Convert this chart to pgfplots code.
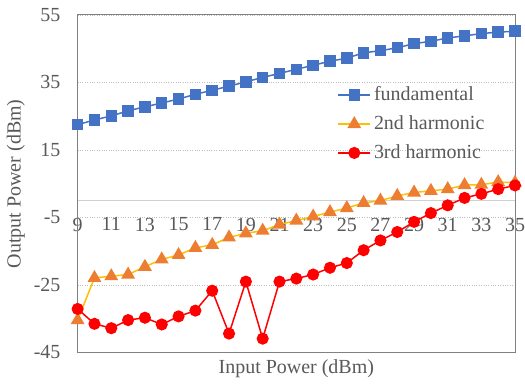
\documentclass[border=0pt]{standalone}
\usepackage{pgfplots}
\pgfplotsset{compat=1.18}
\usepackage{fontspec}
\setmainfont{Liberation Serif}
\definecolor{txt}{HTML}{595959}
\definecolor{fund}{HTML}{4472C4}
\definecolor{secl}{HTML}{FFC000}
\definecolor{secm}{HTML}{ED7D31}
\definecolor{third}{HTML}{FF0000}
\definecolor{gridc}{HTML}{BFBFBF}
\definecolor{frame}{HTML}{808080}
\definecolor{zeroc}{HTML}{D0D0D0}
\begin{document}
\fontsize{20bp}{24bp}\selectfont
\begin{tikzpicture}
\begin{axis}[
  scale only axis,
  width=438bp, height=338bp,
  xmin=9, xmax=35, ymin=-45, ymax=55,
  axis x line*=middle,
  axis y line*=left,
  hide obscured x ticks=false,
  hide obscured y ticks=false,
  x axis line style={draw=zeroc, line width=1.2pt, -},
  y axis line style={draw=frame, line width=1pt, -},
  xtick={9,11,...,35},
  xticklabels={9,11,13,15,17,19,21,23,25,27,29,31,33,35},
  ytick={-45,-25,-5,15,35,55},
  yticklabels={-45,-25,-5,15,35,55},
  major tick length=0pt,
  ymajorgrids,
  grid style={draw=gridc, dotted, line width=0.8pt},
  tick label style={font=\fontsize{20bp}{24bp}\selectfont, text=txt, inner sep=0pt},
  xticklabel style={anchor=north, yshift=-17bp},
  yticklabel style={anchor=east, xshift=-17bp},
  label style={font=\fontsize{20bp}{24bp}\selectfont, text=txt},
  xlabel={Input Power (dBm)},
  ylabel={Output Power (dBm)},
  xlabel style={at={(axis description cs:0.5,0)}, anchor=center, yshift=-16bp},
  ylabel style={at={(axis description cs:-0.1416,0.5)}, anchor=center},
  clip=false,
  legend style={at={(rel axis cs:0.587,0.80)}, anchor=north west, draw=none, fill=none,
    font=\fontsize{20bp}{24bp}\selectfont, text=txt, row sep=8bp,
    legend cell align=left, nodes={inner xsep=3bp}},
  legend image code/.code={\draw[mark repeat=2,mark phase=2] plot coordinates {(0bp,0bp) (16bp,0bp) (32bp,0bp)};},
]
\draw[frame, line width=1pt] (rel axis cs:0,0) rectangle (rel axis cs:1,1);
\path (rel axis cs:0,0) ++(-77bp,-28bp);
\path (rel axis cs:1,1) ++(10bp,15bp);
\addplot[color=fund, line width=1.5pt, mark=square*, mark size=5bp, mark options={fill=fund, draw=fund}]
coordinates {
(9,22.5)(10,23.9)(11,25.1)(12,26.6)(13,27.8)(14,28.9)(15,30.1)(16,31.5)(17,32.7)(18,33.9)
(19,35.2)(20,36.5)(21,37.7)(22,38.9)(23,40.1)(24,41.3)(25,42.2)(26,43.8)(27,44.4)(28,45.3)
(29,46.5)(30,47.2)(31,48.2)(32,48.8)(33,49.5)(34,49.9)(35,50.2)};
\addlegendentry{fundamental}
\addplot[color=secl, line width=1.5pt, mark=triangle*, mark size=6.5bp, mark options={fill=secm, draw=secm}]
coordinates {
(9,-35.4)(10,-22.9)(11,-22.4)(12,-21.9)(13,-19.6)(14,-17.4)(15,-16.1)(16,-14.0)(17,-13.1)(18,-10.9)
(19,-9.7)(20,-8.9)(21,-7.1)(22,-5.9)(23,-4.7)(24,-3.4)(25,-2.2)(26,-0.7)(27,0.0)(28,1.4)
(29,2.4)(30,2.9)(31,3.4)(32,4.6)(33,4.7)(34,5.5)(35,5.3)};
\addlegendentry{2nd harmonic}
\addplot[color=third, line width=1.5pt, mark=*, mark size=5.3bp, mark options={fill=third, draw=third}]
coordinates {
(9,-32.1)(10,-36.5)(11,-37.8)(12,-35.4)(13,-34.7)(14,-36.7)(15,-34.3)(16,-32.6)(17,-26.7)(18,-39.4)
(19,-24.0)(20,-40.9)(21,-24.0)(22,-23.1)(23,-21.9)(24,-19.9)(25,-18.5)(26,-14.7)(27,-11.8)(28,-9.3)
(29,-6.3)(30,-3.7)(31,-1.4)(32,0.8)(33,2.0)(34,3.4)(35,4.5)};
\addlegendentry{3rd harmonic}
\end{axis}
\end{tikzpicture}
\end{document}
